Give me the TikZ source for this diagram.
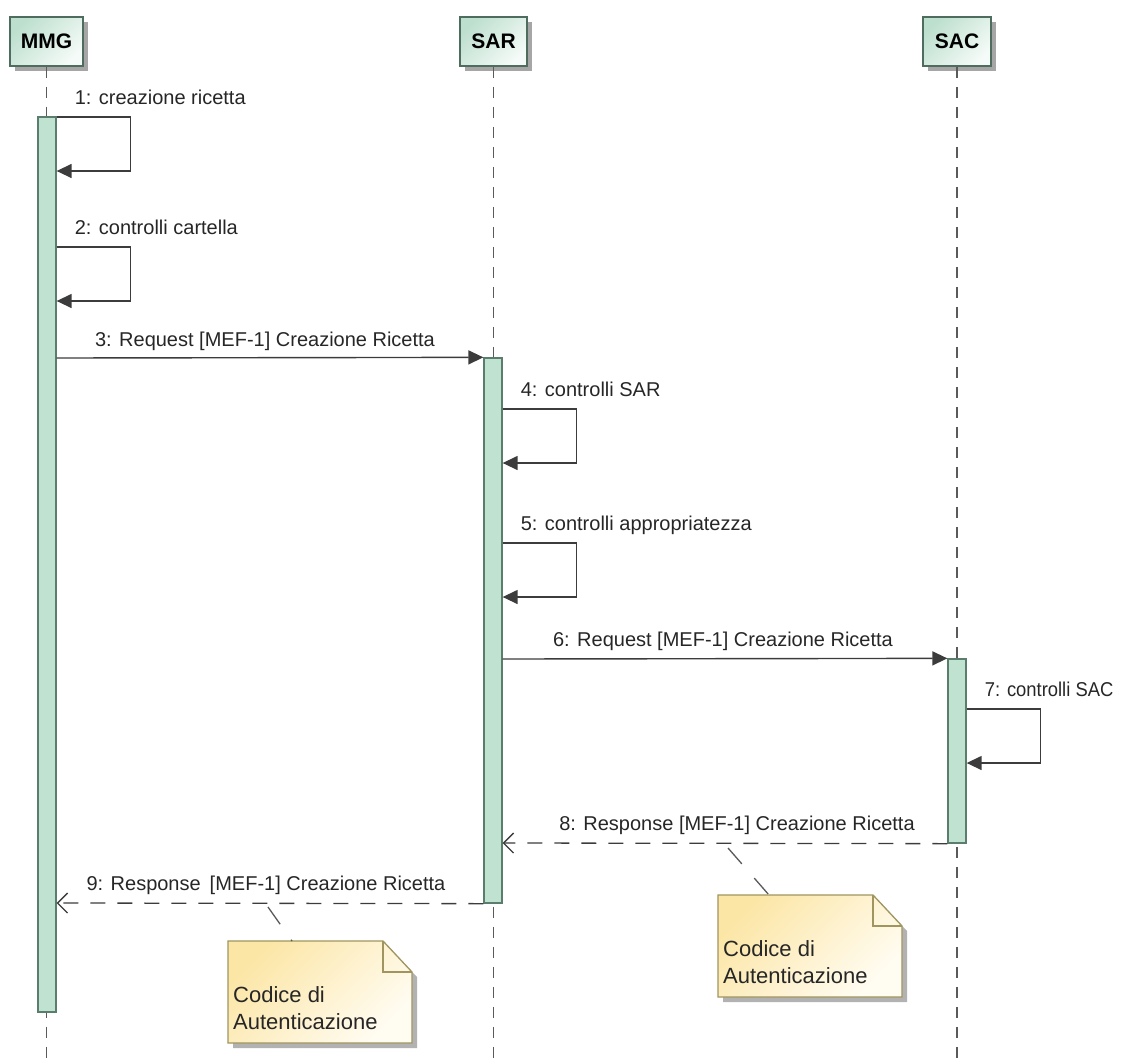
\documentclass[tikz,border=0pt]{standalone}
\usepackage{fontspec}
\setmainfont{Liberation Sans}
\usetikzlibrary{arrows.meta,shadows,calc}

\definecolor{headline}{HTML}{4F6D5F}
\definecolor{headtop}{HTML}{BDDFCE}
\definecolor{headbot}{HTML}{F5FBF8}
\definecolor{actfill}{HTML}{C0E2D1}
\definecolor{actline}{HTML}{5B7D6D}
\definecolor{msgline}{HTML}{3C3C3C}
\definecolor{lifecol}{HTML}{5A5A5A}
\definecolor{notetop}{HTML}{FCE6A6}
\definecolor{notebot}{HTML}{FFFCF2}
\definecolor{noteline}{HTML}{A0955F}

\begin{document}
\begin{tikzpicture}[
    x=1pt, y=-1pt,
    head/.style ={
        draw=headline,
        line width=1.6pt,
        top color=headtop,
        bottom color=headbot,
        shading angle=45,
        minimum height=49pt,
        inner sep=0pt,
        font=\fontsize{21}{25}\selectfont\bfseries,
        drop shadow={shadow xshift=5pt, shadow yshift=-5pt, fill=black!35, opacity=1}
    },
    life/.style ={draw=lifecol, line width=1.3pt, dash pattern=on 11pt off 9pt},
    act/.style ={
        draw=actline,
        fill=actfill,
        line width=1.3pt,
        minimum width=18pt,
        inner sep=0pt
    },
    msg/.style ={draw=msgline, line width=1.4pt, -{Triangle[length=15pt,width=14pt]}},
    reply/.style ={draw=msgline, line width=1.3pt, dash pattern=on 15pt off 12pt,
        -{Straight Barb[length=10pt,width=20pt]}},
    lbl/.style ={font=\fontsize{20}{24}\selectfont, text=black!85, inner sep=0pt},
    notebox/.style ={draw=noteline, line width=1.3pt, top color=notetop, bottom color=notebot,
        shading angle=45},
    notetext/.style ={font=\fontsize{22}{27}\selectfont, text=black!85, align=left, inner sep=0pt},
    link/.style ={draw=black!65, line width=1.3pt, dash pattern=on 21pt off 19pt}
    ]
    \useasboundingbox (0,0) rectangle (1123,1060);

    % lifelines
    \foreach \x/ \pos/ \w in {{MMG/(46.5,41.5)/73}, {SAR/(493.5,41.5)/67}, {SAC/(957,41.5)/68}}
        \node[head, minimum width=\w pt] (\x) at \pos {\x};

    \foreach \x in {MMG, SAR, SAC}
        \draw[life] (\x.south) -- (\x.south |- 0,1060);

    \foreach \x/ \pos/ \h in {{actMMG/(47,564.5)/895}, {actSAR/(493,630.5)/545}, {actSAC/(957,751)/184}}
        \node[act, minimum height=\h pt] (\x) at \pos {};

    % self messages
    \foreach \n/ \act/ \y/ \txt in {1/actMMG/117/{1: creazione ricetta},
                                    2/actMMG/247/{2: controlli cartella},
                                    4/actSAR/409/{4: controlli SAR},
                                    5/actSAR/543/{5: controlli appropriatezza},
                                    7/actSAC/709/{\addfontfeature{FakeStretch=0.92}7: controlli SAC}} {
        \draw[msg] (\act.east |- 0,\y) -- ++(74,0) -- ++(0,54) -- ++(-74,0);
        \node[lbl, anchor=base west] (lbl\n) at ($(\act.east |- 0,\y)+(18,-13)$) {\txt};
    }

    % calls and replies
    \draw[msg] (actMMG.east |- 0,358) -- (actSAR.north west);
    \node[lbl, anchor=base] (lbl3) at (265,346) {3: Request [MEF-1] Creazione Ricetta};
    \draw[msg] (actSAR.east |- 0,659) -- (actSAC.north west);
    \node[lbl, anchor=base] (lbl6) at (723,646) {6: Request [MEF-1] Creazione Ricetta};
    \draw[reply] (actSAC.south west) -- (actSAR.east |- 0,843);
    \node[lbl, anchor=base] (lbl8) at (737,830) {8: Response [MEF-1] Creazione Ricetta};
    \draw[reply] (actSAR.south west) -- (actMMG.east |- 0,903);
    \node[lbl, anchor=base] (lbl9) at (266,890) {9: Response\hspace{9pt}[MEF-1] Creazione Ricetta};

    % notes
    \foreach \n/ \x/ \y/ \c in {note1/228/941/64, note2/718/895/51} {
        \fill[black!30] (\x+5,\y+5) -- (\x+160,\y+5) -- (\x+189,\y+36) -- (\x+189,\y+107)
            -- (\x+5,\y+107) -- cycle;
        \path[notebox] (\x,\y) -- (\x+155,\y) -- (\x+184,\y+31) -- (\x+184,\y+102)
            -- (\x,\y+102) -- cycle;
        \draw[draw=noteline, line width=1.3pt] (\x+155,\y) -- (\x+155,\y+31) -- (\x+184,\y+31);
        \node[notetext, anchor=north west] (\n) at (\x+5,\y+45) {Codice di\\Autenticazione};
        \coordinate (\n-top) at (\x+\c,\y);
    }

    \coordinate (m9) at (268,907);
    \coordinate (m8) at (728,848);
    \draw[link] (m9) -- (note1-top);
    \draw[link] (m8) -- (note2-top);

\end{tikzpicture}
\end{document}
